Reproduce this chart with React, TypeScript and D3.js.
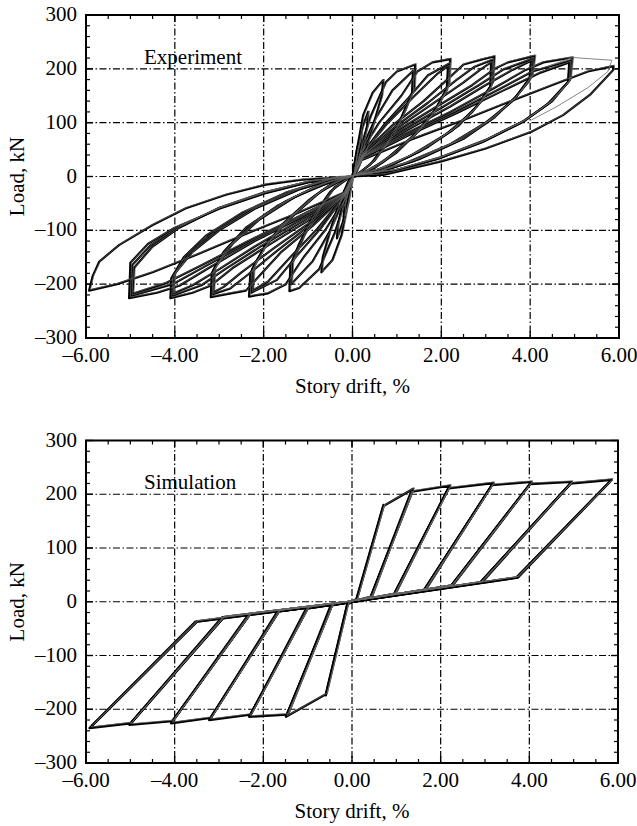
import React from "react";
import * as d3 from "d3";

// ---- axis definitions ----
const xMajor = [-6, -4, -2, 0, 2, 4, 6];
const xMajorLabels = ["\u20136.00", "\u20134.00", "\u20132.00", "0.00", "2.00", "4.00", "6.00"];
const yMajor = [-300, -200, -100, 0, 100, 200, 300];
const yMajorLabels = ["\u2013300", "\u2013200", "\u2013100", "0", "100", "200", "300"];
const xTitle = "Story drift, %";
const yTitle = "Load, kN";

// ---- Experiment: cycles as flat [drift, load, drift, load, ...] ----
const expE1 = [0, 0, 0.1, 50, 0.2, 80, 0.18, 55, 0.1, 20, 0, 0, -0.1, -48, -0.2, -75, -0.18, -52, -0.1, -18, 0, 0];
const expE2 = [0, 0, 0.1, 45, 0.22, 90, 0.35, 120, 0.33, 95, 0.22, 50, 0.1, 15, 0, 0, -0.1, -42, -0.22, -85, -0.35, -115, -0.33, -92, -0.22, -48, -0.1, -14, 0, 0];
const expE3 = [0, 0, 0.1, 50, 0.24, 114, 0.45, 155, 0.69, 179, 0.66, 150, 0.5, 105, 0.3, 50, 0.1, 10, 0, 0, -0.1, -48, -0.25, -110, -0.45, -155, -0.7, -178, -0.67, -150, -0.5, -100, -0.3, -48, -0.1, -10, 0, 0];
const expE4a = [0, 0, 0.15, 45, 0.4, 110, 0.75, 175, 1.0, 195, 1.41, 208, 1.39, 165, 1.2, 125, 0.9, 75, 0.5, 30, 0.15, 6, 0, 0, -0.15, -40, -0.4, -105, -0.75, -172, -1.2, -207, -1.42, -213, -1.4, -165, -1.2, -125, -0.9, -75, -0.5, -28, -0.15, -6, 0, 0];
const expE4b = [0, 0, 0.15, 40, 0.5, 105, 0.9, 160, 1.36, 196, 1.34, 155, 1.1, 110, 0.75, 60, 0.4, 22, 0.1, 4, 0, 0, -0.15, -35, -0.5, -100, -0.9, -158, -1.38, -200, -1.35, -160, -1.1, -112, -0.75, -60, -0.4, -20, -0.1, -4, 0, 0];
const expE5a = [0, 0, 0.15, 40, 0.6, 100, 1.1, 150, 1.46, 195, 1.8, 212, 2.2, 218, 2.17, 170, 1.9, 128, 1.5, 85, 1.0, 45, 0.5, 16, 0, 0, -0.15, -38, -0.6, -98, -1.1, -150, -1.5, -200, -1.9, -217, -2.33, -223, -2.3, -180, -2.0, -135, -1.6, -90, -1.0, -45, -0.5, -15, 0, 0];
const expE5b = [0, 0, 0.2, 40, 0.8, 100, 1.4, 150, 1.9, 190, 2.15, 205, 2.12, 160, 1.8, 115, 1.3, 70, 0.7, 28, 0.2, 5, 0, 0, -0.2, -38, -0.8, -98, -1.4, -150, -1.9, -195, -2.25, -212, -2.22, -165, -1.9, -120, -1.3, -70, -0.7, -27, -0.2, -5, 0, 0];
const expE5c = [0, 0, 0.18, 38, 0.7, 95, 1.25, 145, 1.7, 188, 2.18, 210, 2.15, 168, 1.85, 122, 1.4, 78, 0.85, 38, 0.35, 10, 0, 0, -0.18, -36, -0.7, -95, -1.25, -147, -1.7, -192, -2.28, -216, -2.26, -172, -1.95, -128, -1.45, -80, -0.85, -36, -0.35, -9, 0, 0];
const expE6a = [0, 0, 0.2, 40, 0.9, 95, 1.6, 140, 2.2, 185, 2.5, 208, 2.9, 217, 3.19, 223, 3.16, 175, 2.9, 140, 2.4, 95, 1.7, 55, 0.9, 22, 0.3, 5, 0, 0, -0.2, -38, -0.9, -92, -1.6, -140, -2.1, -185, -2.4, -212, -2.8, -218, -3.19, -224, -3.17, -180, -2.9, -140, -2.4, -95, -1.7, -55, -0.9, -22, -0.3, -5, 0, 0];
const expE6b = [0, 0, 0.2, 38, 1.0, 90, 1.8, 135, 2.5, 175, 2.9, 200, 3.12, 212, 3.1, 165, 2.7, 120, 2.1, 78, 1.3, 38, 0.5, 10, 0, 0, -0.2, -36, -1.0, -88, -1.8, -135, -2.5, -178, -2.9, -205, -3.13, -215, -3.1, -170, -2.7, -125, -2.1, -80, -1.3, -38, -0.5, -10, 0, 0];
const expE6c = [0, 0, 0.2, 36, 0.95, 92, 1.7, 137, 2.35, 180, 2.75, 204, 3.15, 217, 3.13, 170, 2.8, 130, 2.25, 86, 1.5, 46, 0.7, 15, 0, 0, -0.2, -36, -0.95, -90, -1.7, -138, -2.35, -182, -2.75, -208, -3.16, -219, -3.14, -175, -2.8, -132, -2.25, -88, -1.5, -46, -0.7, -15, 0, 0];
const expE7a = [0, 0, 0.2, 38, 1.0, 85, 1.9, 130, 2.7, 170, 3.2, 200, 3.5, 212, 4.1, 224, 4.05, 190, 3.7, 150, 3.2, 110, 2.5, 70, 1.5, 32, 0.6, 8, 0, 0, -0.2, -36, -1.0, -82, -1.9, -128, -2.7, -170, -3.2, -203, -3.6, -216, -4.1, -226, -4.08, -189, -3.8, -150, -3.3, -110, -2.5, -68, -1.5, -30, -0.6, -7, 0, 0];
const expE7b = [0, 0, 0.2, 35, 1.2, 85, 2.2, 130, 3.0, 170, 3.6, 198, 4.02, 215, 3.98, 178, 3.6, 140, 3.0, 100, 2.2, 60, 1.2, 25, 0.4, 5, 0, 0, -0.2, -34, -1.2, -82, -2.2, -130, -3.0, -172, -3.6, -202, -4.05, -218, -4.0, -180, -3.6, -140, -3.0, -100, -2.2, -60, -1.2, -24, -0.4, -5, 0, 0];
const expE7c = [0, 0, 0.2, 36, 1.1, 85, 2.05, 130, 2.85, 170, 3.4, 199, 4.06, 219, 4.02, 184, 3.65, 145, 3.1, 105, 2.35, 65, 1.35, 28, 0.5, 6, 0, 0, -0.2, -35, -1.1, -82, -2.05, -129, -2.85, -171, -3.4, -202, -4.07, -222, -4.04, -185, -3.7, -145, -3.15, -105, -2.35, -64, -1.35, -27, -0.5, -6, 0, 0];
const expE8a = [0, 0, 0.2, 35, 1.2, 80, 2.2, 120, 3.2, 165, 3.9, 198, 4.3, 212, 4.95, 221, 4.9, 180, 4.5, 140, 3.9, 105, 3.0, 68, 2.0, 36, 1.0, 12, 0, 0, -0.2, -33, -1.2, -78, -2.2, -120, -3.2, -168, -3.9, -203, -4.4, -216, -5.03, -226, -5.0, -160, -4.6, -125, -4.0, -95, -3.0, -60, -2.0, -32, -1.0, -11, 0, 0];
const expE8b = [0, 0, 0.2, 33, 1.3, 78, 2.4, 120, 3.4, 160, 4.2, 192, 4.88, 212, 4.85, 175, 4.4, 135, 3.8, 100, 2.9, 63, 1.9, 32, 0.9, 10, 0, 0, -0.2, -32, -1.3, -78, -2.4, -122, -3.4, -165, -4.2, -198, -4.95, -218, -4.92, -170, -4.5, -130, -3.9, -95, -3.0, -58, -2.0, -30, -1.0, -10, 0, 0];
const expE8c = [0, 0, 0.2, 34, 1.25, 79, 2.3, 120, 3.3, 162, 4.05, 195, 4.92, 216, 4.88, 178, 4.45, 138, 3.85, 102, 2.95, 65, 1.95, 34, 0.95, 11, 0, 0, -0.2, -32, -1.25, -78, -2.3, -121, -3.3, -166, -4.05, -200, -4.99, -222, -4.96, -165, -4.55, -128, -3.95, -95, -3.0, -59, -2.0, -31, -1.0, -10, 0, 0];
const expE9 = [0, 0, 0.2, 30, 1.3, 68, 2.5, 105, 3.5, 138, 4.5, 170, 5.3, 195, 5.87, 205, 5.87, 198, 5.35, 152, 4.74, 114, 4.03, 83, 3.0, 52, 2.0, 28, 0.69, 3, 0, 0, -0.2, -30, -1.3, -70, -2.5, -110, -3.5, -145, -4.5, -178, -5.3, -200, -5.93, -212, -5.85, -185, -5.7, -158, -5.25, -127, -4.5, -90, -3.75, -59, -2.85, -34, -1.95, -15, -1.13, -6, 0, 0];
const expThin = [4.4, 205, 4.95, 221, 5.84, 216, 5.75, 195, 5.3, 165, 4.6, 130, 4.03, 105];
const expCycles = [expE1, expE2, expE3, expE4a, expE4b, expE5a, expE5b, expE5c, expE6a, expE6b, expE6c, expE7a, expE7b, expE7c, expE8a, expE8b, expE8c, expE9];

// ---- Simulation cycles ----
const simS1 = [0, 0, 0.1, 3, 0.71, 180, 0.1, 5, 0, 0, -0.1, -3, -0.59, -174, -0.1, -5, 0, 0];
const simS2a = [0, 0, 0.1, 3, 0.71, 178, 1.38, 210, 0.42, 8, 0, 0, -0.1, -3, -0.59, -172, -1.49, -214, -0.45, -6, 0, 0];
const simS2b = [0, 0, 0.42, 8, 1.33, 204, 0.45, 10, 0, 0, -0.45, -6, -1.44, -208, -0.48, -7, 0, 0];
const simS3a = [0, 0, 0.42, 8, 1.36, 205, 2.21, 216, 0.95, 14, 0, 0, -0.45, -6, -1.47, -210, -2.32, -214, -1.0, -12, 0, 0];
const simS3b = [0, 0, 0.95, 14, 2.16, 209, 0.98, 15, 0, 0, -1.0, -12, -2.27, -208, -1.03, -12, 0, 0];
const simS4a = [0, 0, 0.95, 14, 2.18, 211, 3.19, 221, 1.63, 22, 0, 0, -1.0, -12, -2.29, -210, -3.22, -220, -1.65, -18, 0, 0];
const simS4b = [0, 0, 1.63, 22, 3.14, 215, 1.66, 22, 0, 0, -1.65, -18, -3.17, -214, -1.68, -18, 0, 0];
const simS5a = [0, 0, 1.63, 22, 3.16, 217, 4.05, 223, 2.24, 30, 0, 0, -1.65, -18, -3.19, -216, -4.08, -226, -2.3, -23, 0, 0];
const simS5b = [0, 0, 2.24, 30, 4.0, 217, 2.27, 30, 0, 0, -2.3, -23, -4.03, -220, -2.33, -23, 0, 0];
const simS6a = [0, 0, 2.24, 30, 4.02, 219, 4.96, 223, 2.9, 36, 0, 0, -2.3, -23, -4.05, -222, -5.02, -229, -2.9, -29, 0, 0];
const simS6b = [0, 0, 2.9, 36, 4.91, 218, 2.93, 36, 0, 0, -2.9, -29, -4.97, -224, -2.93, -29, 0, 0];
const simS7a = [0, 0, 2.9, 36, 4.93, 220, 5.86, 227, 3.71, 45, 0, 0, -2.9, -29, -4.99, -226, -5.92, -235, -3.5, -37, 0, 0];
const simS7b = [0, 0, 3.71, 45, 5.8, 222, 3.74, 45, 0, 0, -3.5, -37, -5.86, -230, -3.53, -37, 0, 0];
const simCycles = [simS1, simS2a, simS2b, simS3a, simS3b, simS4a, simS4b, simS5a, simS5b, simS6a, simS6b, simS7a, simS7b];

const W = 637;
const H = 826;
const FONT = "'Liberation Serif', 'Times New Roman', serif";
const FS = 21;

function toPairs(flat: number[]): [number, number][] {
  const out: [number, number][] = [];
  for (let i = 0; i + 1 < flat.length; i += 2) out.push([flat[i], flat[i + 1]]);
  return out;
}

type PanelProps = {
  id: string;
  left: number;
  right: number;
  top: number;
  bottom: number;
  label: string;
  cycles: number[][];
  thin?: number[][];
  width: number;
};

function Panel({ id, left, right, top, bottom, label, cycles, thin, width }: PanelProps) {
  const x = d3.scaleLinear().domain([-6, 6]).range([left, right]);
  const y = d3.scaleLinear().domain([-300, 300]).range([bottom, top]);
  const line = d3
    .line<[number, number]>()
    .x((d) => x(d[0]))
    .y((d) => y(d[1]))
    .curve(d3.curveLinear);

  const xMinor = d3.range(-6, 6.001, 0.5).filter((v) => !xMajor.includes(v));
  const yMinor = d3.range(-300, 300.001, 20).filter((v) => !yMajor.includes(Math.round(v)));
  const dash = "7,2.5,1.5,2.5";
  const minorLen = 4;
  const majorLen = 7;

  return (
    <g>
      <defs>
        <clipPath id={id}>
          <rect x={left} y={top} width={right - left} height={bottom - top} />
        </clipPath>
      </defs>
      {xMajor.slice(1, -1).map((v) => (
        <line key={"gx" + v} x1={x(v)} x2={x(v)} y1={top} y2={bottom} stroke="#000" strokeWidth={1.2} strokeDasharray={dash} />
      ))}
      {yMajor.slice(1, -1).map((v) => (
        <line key={"gy" + v} x1={left} x2={right} y1={y(v)} y2={y(v)} stroke="#000" strokeWidth={1.2} strokeDasharray={dash} />
      ))}
      {xMinor.map((v) => (
        <g key={"xm" + v}>
          <line x1={x(v)} x2={x(v)} y1={bottom} y2={bottom - minorLen} stroke="#000" strokeWidth={1.2} />
          <line x1={x(v)} x2={x(v)} y1={top} y2={top + minorLen} stroke="#000" strokeWidth={1.2} />
        </g>
      ))}
      {yMinor.map((v) => (
        <g key={"ym" + v}>
          <line x1={left} x2={left + minorLen} y1={y(v)} y2={y(v)} stroke="#000" strokeWidth={1.2} />
          <line x1={right} x2={right - minorLen} y1={y(v)} y2={y(v)} stroke="#000" strokeWidth={1.2} />
        </g>
      ))}
      {xMajor.map((v) => (
        <g key={"xM" + v}>
          <line x1={x(v)} x2={x(v)} y1={bottom} y2={bottom - majorLen} stroke="#000" strokeWidth={1.4} />
          <line x1={x(v)} x2={x(v)} y1={top} y2={top + majorLen} stroke="#000" strokeWidth={1.4} />
        </g>
      ))}
      {yMajor.map((v) => (
        <g key={"yM" + v}>
          <line x1={left} x2={left + majorLen} y1={y(v)} y2={y(v)} stroke="#000" strokeWidth={1.4} />
          <line x1={right} x2={right - majorLen} y1={y(v)} y2={y(v)} stroke="#000" strokeWidth={1.4} />
        </g>
      ))}
      <g clipPath={`url(#${id})`}>
        {cycles.map((c, i) => (
          <path key={"c" + i} d={line(toPairs(c)) || ""} fill="none" stroke="#000" strokeWidth={width} strokeLinejoin="round" />
        ))}
        {cycles.map((c, i) => (
          <path
            key={"cg" + i}
            d={line(toPairs(c).map((p) => [p[0] + 0.03, p[1] + 2] as [number, number])) || ""}
            fill="none"
            stroke="#666"
            strokeWidth={0.7}
          />
        ))}
        {(thin || []).map((c, i) => (
          <path key={"t" + i} d={line(toPairs(c)) || ""} fill="none" stroke="#777" strokeWidth={0.9} />
        ))}
      </g>
      <rect x={left} y={top} width={right - left} height={bottom - top} fill="none" stroke="#000" strokeWidth={2} />
      {xMajor.map((v, i) => (
        <text key={"xl" + v} x={x(v)} y={bottom + 24} textAnchor="middle" fontFamily={FONT} fontSize={FS}>
          {xMajorLabels[i]}
        </text>
      ))}
      {yMajor.map((v, i) => (
        <text key={"yl" + v} x={left - 9} y={y(v) + 6} textAnchor="end" fontFamily={FONT} fontSize={FS}>
          {yMajorLabels[i]}
        </text>
      ))}
      <text x={(left + right) / 2} y={bottom + 55} textAnchor="middle" fontFamily={FONT} fontSize={FS}>
        {xTitle}
      </text>
      <text transform={`translate(24, ${(top + bottom) / 2}) rotate(-90)`} textAnchor="middle" fontFamily={FONT} fontSize={FS}>
        {yTitle}
      </text>
      <text x={144} y={y(200) - 5} fontFamily={FONT} fontSize={FS}>
        {label}
      </text>
    </g>
  );
}

export default function App() {
  return (
    <svg width={W} height={H} viewBox={`0 0 ${W} ${H}`} style={{ position: "absolute", left: 0, top: 0, background: "#fff" }}>
      <rect x={0} y={0} width={W} height={H} fill="#fff" />
      <Panel id="clipExp" left={86} right={619} top={15} bottom={338} label="Experiment" cycles={expCycles} thin={[expThin]} width={2.2} />
      <Panel id="clipSim" left={86} right={618} top={440.5} bottom={763} label="Simulation" cycles={simCycles} width={2.4} />
    </svg>
  );
}
